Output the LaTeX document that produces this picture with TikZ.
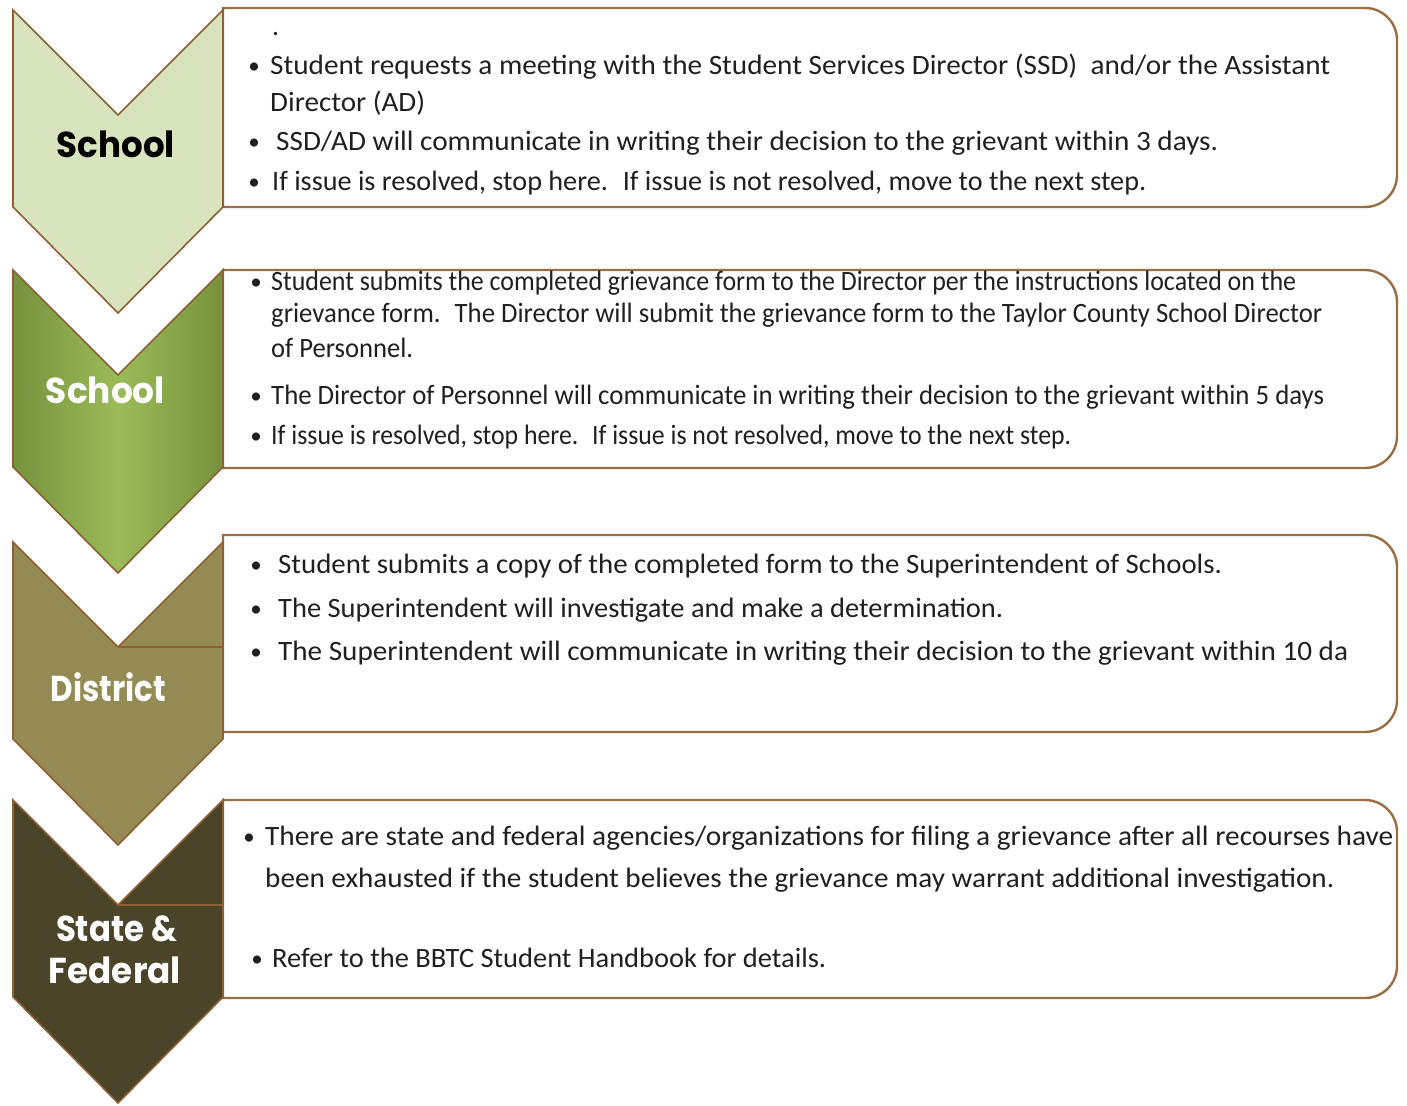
\documentclass[tikz,border=0pt]{standalone}
\usepackage{fontspec}
\usepackage{graphicx}
\setmainfont{Carlito}
\newfontfamily\labfont{Poppins}
\definecolor{edgebrown}{HTML}{8E6034}
\definecolor{boxbrown}{HTML}{9A6E44}
\definecolor{chA}{HTML}{D7E4BD}
\definecolor{chBdark}{HTML}{76923C}
\definecolor{chBlight}{HTML}{9BBB59}
\definecolor{chC}{HTML}{948A54}
\definecolor{chD}{HTML}{4A4429}
\definecolor{bodytext}{HTML}{202020}
\newcommand\chevpath[1]{(13,#1) -- (118,#1+105) -- (223,#1) -- (223,#1+197) -- (118,#1+303) -- (13,#1+197) -- cycle}
\newcommand\boxpath[2]{(223,#1) -- (1365,#1) .. controls (1382.7,#1) and (1397,#1+14.3) .. (1397,#1+32) -- (1397,#2-32) .. controls (1397,#2-14.3) and (1382.7,#2) .. (1365,#2) -- (223,#2) -- cycle}
\newcommand\tline[5]{\node[txt] (#1) at (#2,#3) {\resizebox{#4pt}{\height}{#5}};}
\newcommand\bull[3]{\node[bul] (#1) at (#2,#3) {•};}
\newcommand\lab[6]{\node[lab,text=#6] (#1) at (#2,#3) {\resizebox{#4pt}{\height}{#5}};}
\begin{document}
\begin{tikzpicture}[x=1pt,y=-1pt,
  chev/.style={draw=edgebrown, line width=1.6pt, line join=miter},
  boxshape/.style={draw=boxbrown, line width=2.4pt, fill=white},
  txt/.style={anchor=base west, inner sep=0pt, text=bodytext, font=\fontsize{28}{34}\selectfont},
  bul/.style={anchor=base, inner sep=0pt, text=bodytext, font=\fontsize{23}{28}\selectfont},
  lab/.style={anchor=base, inner sep=0pt, font=\labfont\bfseries\fontsize{36}{40}\selectfont},
  notchline/.style={draw=edgebrown, line width=1.4pt}]
\useasboundingbox (0,0) rectangle (1407,1105);
\fill[white] (0,0) rectangle (1407,1105);

% text boxes
\path[boxshape] \boxpath{8}{207};
\path[boxshape] \boxpath{270}{468};
\path[boxshape] \boxpath{535}{732};
\path[boxshape] \boxpath{800}{998};

% chevrons
\path[chev, fill=chA] \chevpath{10};
\path[chev, left color=chBdark, right color=chBdark, middle color=chBlight] \chevpath{270};
\path[chev, fill=chC] \chevpath{542};
\draw[notchline] (118,647) -- (223,647);
\path[chev, fill=chD] \chevpath{800};
\draw[notchline] (118,905) -- (223,905);

% labels
\lab{labA}{116}{157}{118}{School}{black}
\lab{labB}{105.5}{403}{119}{School}{white}
\lab{labC}{108.5}{701}{115}{District}{white}
\lab{labD1}{116.5}{941}{121}{State \&}{white}
\lab{labD2}{115}{983}{132}{Federal}{white}

% box 1
\node[txt] (dotA) at (272,36) {.};
\bull{bA1}{254}{74}
\tline{tA1}{270}{75}{1060}{Student requests a meeting with the Student Services Director (SSD)~ and/or the Assistant}
\tline{tA2}{270}{112}{155}{Director (AD)}
\bull{bA2}{254}{149}
\tline{tA3}{276}{150}{942}{SSD/AD will communicate in writing their decision to the grievant within 3 days.}
\bull{bA3}{254}{189}
\tline{tA4}{272}{190}{874}{If issue is resolved, stop here.~ If issue is not resolved, move to the next step.}

% box 2
\bull{bB1}{256}{289}
\tline{tB1}{271}{290}{1025}{Student submits the completed grievance form to the Director per the instructions located on the}
\tline{tB2}{271}{322}{1051}{grievance form.~ The Director will submit the grievance form to the Taylor County School Director}
\tline{tB3}{271}{357}{142}{of Personnel.}
\bull{bB2}{256}{403}
\tline{tB4}{271}{404}{1053}{The Director of Personnel will communicate in writing their decision to the grievant within 5 days}
\bull{bB3}{256}{443}
\tline{tB5}{271}{444}{800}{If issue is resolved, stop here.~ If issue is not resolved, move to the next step.}

% box 3
\bull{bC1}{256}{572}
\tline{tC1}{278}{573}{944}{Student submits a copy of the completed form to the Superintendent of Schools.}
\bull{bC2}{256}{616}
\tline{tC2}{278}{617}{725}{The Superintendent will investigate and make a determination.}
\bull{bC3}{256}{659}
\tline{tC3}{278}{660}{1070}{The Superintendent will communicate in writing their decision to the grievant within 10 da}

% box 4
\bull{bD1}{249}{844}
\tline{tD1}{265}{845}{1128}{There are state and federal agencies/organizations for filing a grievance after all recourses have}
\tline{tD2}{265}{887}{1069}{been exhausted if the student believes the grievance may warrant additional investigation.}
\bull{bD2}{257}{966}
\tline{tD3}{272}{967}{554}{Refer to the BBTC Student Handbook for details.}
\end{tikzpicture}
\end{document}
